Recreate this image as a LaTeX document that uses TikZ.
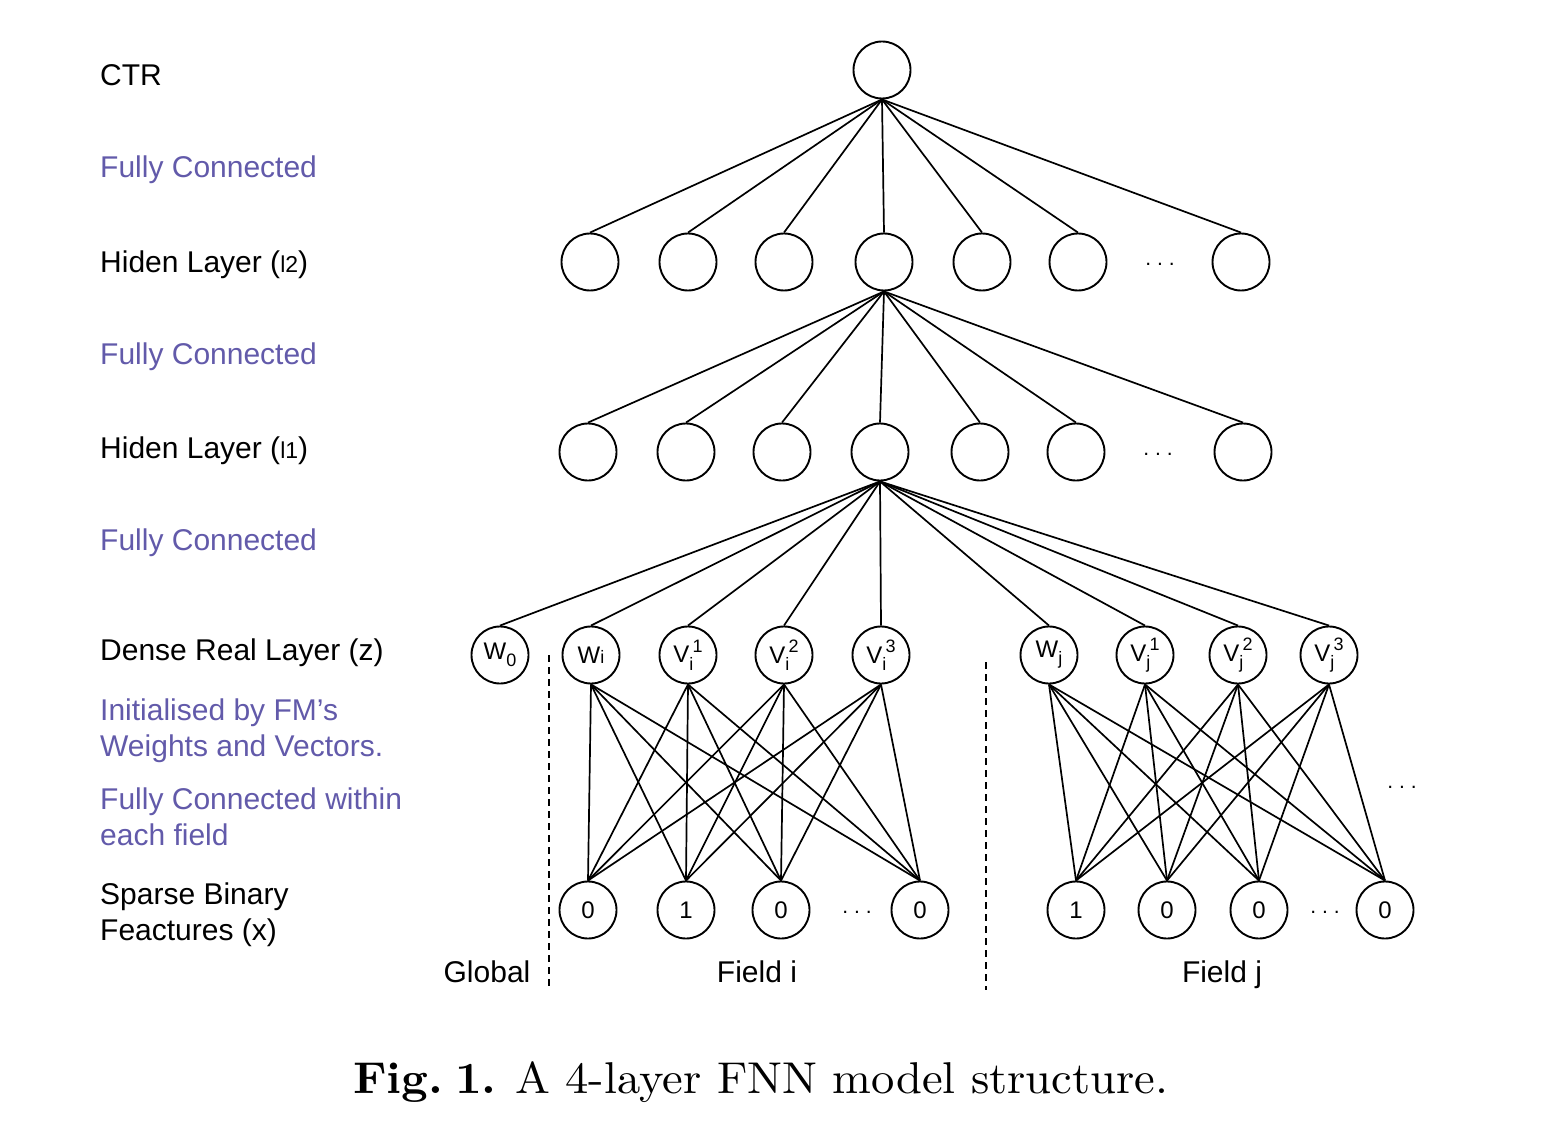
\documentclass[tikz,border=0pt]{standalone}
\usepackage{fontspec}
\usepackage{graphicx}
\newfontfamily\arialf{Liberation Sans}
\definecolor{fcpurple}{RGB}{98,90,170}
\newcommand\nodesupsub[3]{#1\rlap{\raisebox{-0.3em}{\fontsize{18}{18}\selectfont #2}}\raisebox{0.45em}{\fontsize{18}{18}\selectfont\hspace{0.18em}#3}}
\tikzset{
  neuron/.style={circle,draw,line width=1.9pt,minimum size=57pt,inner sep=0pt,font=\arialf\fontsize{24}{24}\selectfont},
  conn/.style={line width=1.7pt},
  lbl/.style={anchor=base west,inner sep=0pt,font=\arialf\fontsize{30}{36}\selectfont,align=left},
  fclbl/.style={lbl,text=fcpurple},
  fieldlbl/.style={anchor=base,inner sep=0pt,font=\arialf\fontsize{30}{36}\selectfont},
  sep/.style={line width=1.6pt,dash pattern=on 7pt off 5pt},
  dotsl/.style={inner sep=0pt,font=\arialf\fontsize{21}{21}\selectfont}
}
\begin{document}
\begin{tikzpicture}[x=1pt,y=-1pt]
\useasboundingbox (0,0) rectangle (1550,1142);
% left labels
\node[lbl] (tctr) at (100,86) {CTR};
\node[fclbl] (tfc1) at (100,178) {Fully Connected};
\node[lbl] (th2) at (100,272) {Hiden Layer ({\fontsize{23}{23}\selectfont l2})};
\node[fclbl] (tfc2) at (100,364) {Fully Connected};
\node[lbl] (th1) at (100,458) {Hiden Layer ({\fontsize{23}{23}\selectfont l1})};
\node[fclbl] (tfc3) at (100,550) {Fully Connected};
\node[lbl] (tdense) at (100,660) {Dense Real Layer (z)};
\node[fclbl] (tinit) at (100,756) {Initialised by FM’s\\Weights and Vectors.};
\node[fclbl] (tfcw) at (100,845) {Fully Connected within\\each field};
\node[lbl] (tsparse) at (100,940) {Sparse Binary\\Feactures (x)};
% top
\node[neuron] (ctr) at (882,70) {};
\foreach \i/\x in {1/590,2/688,3/784,4/884,5/982,6/1078,7/1241}
  \node[neuron] (h2\i) at (\x,262) {};
\foreach \i/\x in {1/588,2/686,3/782,4/880,5/980,6/1076,7/1243}
  \node[neuron] (h1\i) at (\x,452) {};
\node[dotsl] (dots2) at (1160,264) {.\hspace{6pt}.\hspace{6pt}.};
\node[dotsl] (dots1) at (1158,454) {.\hspace{6pt}.\hspace{6pt}.};
\foreach \i in {1,...,7} {
  \draw[conn] (ctr.south) -- (h2\i.north);
  \draw[conn] (h24.south) -- (h1\i.north);
}
% dense layer
\node[neuron] (w0) at (500,655) {W\raisebox{-0.3em}{\fontsize{18}{18}\selectfont 0}};
\node[neuron] (wi) at (591,655) {W{\fontsize{18}{18}\selectfont i}};
\node[neuron] (vi1) at (688,655) {\nodesupsub{V}{i}{1}};
\node[neuron] (vi2) at (784,655) {\nodesupsub{V}{i}{2}};
\node[neuron] (vi3) at (881,655) {\nodesupsub{V}{i}{3}};
\node[neuron] (wj) at (1049,655) {W\raisebox{-0.3em}{\fontsize{18}{18}\selectfont j}};
\node[neuron] (vj1) at (1145,655) {\nodesupsub{V}{j}{1}};
\node[neuron] (vj2) at (1238,655) {\nodesupsub{V}{j}{2}};
\node[neuron] (vj3) at (1329,655) {\nodesupsub{V}{j}{3}};
\foreach \n in {w0,wi,vi1,vi2,vi3,wj,vj1,vj2,vj3}
  \draw[conn] (h14.south) -- (\n.north);
% binary layer
\node[neuron] (xi1) at (588,910) {0};
\node[neuron] (xi2) at (686,910) {1};
\node[neuron] (xi3) at (781,910) {0};
\node[neuron] (xi4) at (920,910) {0};
\node[neuron] (xj1) at (1076,910) {1};
\node[neuron] (xj2) at (1167,910) {0};
\node[neuron] (xj3) at (1259,910) {0};
\node[neuron] (xj4) at (1385,910) {0};
\node[dotsl] (dotsi) at (857,912) {.\hspace{6pt}.\hspace{6pt}.};
\node[dotsl] (dotsj) at (1325,912) {.\hspace{6pt}.\hspace{6pt}.};
\node[dotsl] (dotsr) at (1402,787) {.\hspace{6pt}.\hspace{6pt}.};
\foreach \a in {wi,vi1,vi2,vi3}
  \foreach \b in {xi1,xi2,xi3,xi4}
    \draw[conn] (\a.south) -- (\b.north);
\foreach \a in {wj,vj1,vj2,vj3}
  \foreach \b in {xj1,xj2,xj3,xj4}
    \draw[conn] (\a.south) -- (\b.north);
% separators
\coordinate (s1a) at (549,655);
\coordinate (s1b) at (549,990);
\coordinate (s2a) at (986,662);
\coordinate (s2b) at (986,990);
\draw[sep] (s1a) -- (s1b);
\draw[sep] (s2a) -- (s2b);
% field labels
\node[fieldlbl] (tglobal) at (487,982) {Global};
\node[fieldlbl] (tfieldi) at (757,982) {Field i};
\node[fieldlbl] (tfieldj) at (1222,982) {Field j};
% caption
\node[anchor=base west,inner sep=0pt] (caption) at (353,1093) {\resizebox*{815pt}{41pt}{\textbf{Fig.\hspace{0.25em}1.}\hspace{0.4em}A 4-layer FNN model structure.}};
\end{tikzpicture}
\end{document}
